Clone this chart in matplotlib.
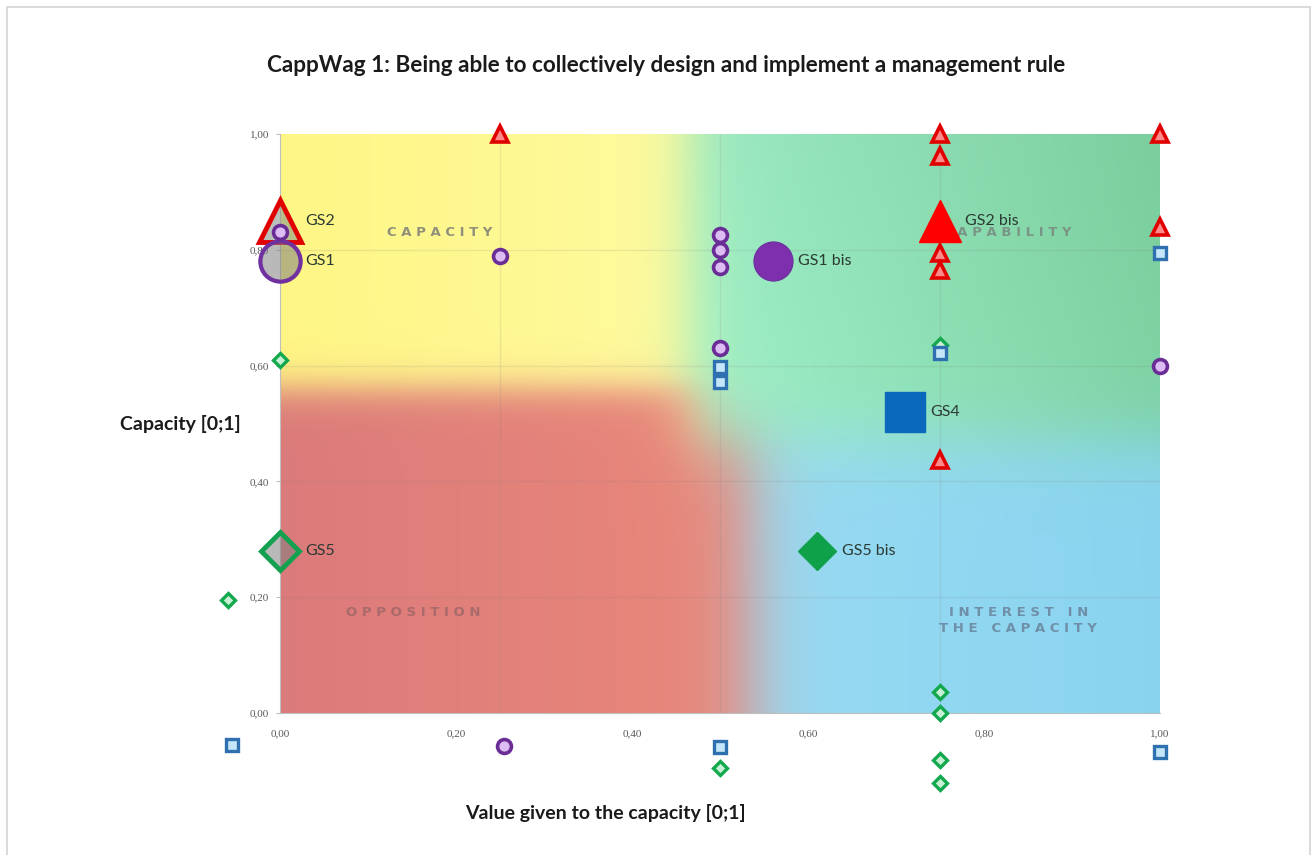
import numpy as np
import matplotlib.pyplot as plt
from matplotlib.patches import Rectangle

# small answers, one group per marker type
circle_x = [0.0, 0.25, 0.5, 0.5, 0.5, 0.5, 1.0, 0.255]
circle_y = [0.83, 0.79, 0.825, 0.80, 0.77, 0.63, 0.60, -0.057]

square_x = [0.5, 0.5, 0.75, 1.0, -0.055, 0.5, 1.0]
square_y = [0.597, 0.572, 0.622, 0.794, -0.055, -0.058, -0.068]

triangle_x = [0.25, 0.75, 0.75, 0.75, 0.75, 1.0, 1.0, 0.75]
triangle_y = [1.0, 1.0, 0.962, 0.795, 0.765, 1.0, 0.84, 0.437]

diamond_x = [0.0, -0.059, 0.75, 0.75, 0.5, 0.75, 0.75, 0.75]
diamond_y = [0.61, 0.195, 0.037, 0.0, -0.095, -0.081, -0.121, 0.635]

# group summaries
group_names = ["GS1", "GS2", "GS1 bis", "GS2 bis", "GS4", "GS5", "GS5 bis"]
group_x = [0.0, 0.0, 0.56, 0.75, 0.71, 0.0, 0.61]
group_y = [0.78, 0.85, 0.78, 0.85, 0.52, 0.28, 0.28]

x_ticks = [0.0, 0.2, 0.4, 0.6, 0.8, 1.0]
y_ticks = [0.0, 0.2, 0.4, 0.6, 0.8, 1.0]
tick_labels = ["0,00", "0,20", "0,40", "0,60", "0,80", "1,00"]


def sig(v):
    return 1.0 / (1.0 + np.exp(-v))


def background(n=400):
    xs = np.linspace(0, 1, n)
    ys = np.linspace(0, 1, n)
    X, Y = np.meshgrid(xs, ys)
    X = X[..., None]
    Y = Y[..., None]
    yel = np.array([1.0, 0.965, 0.52]) * (1 - X) + np.array([1.0, 1.0, 0.74]) * X
    s = np.clip((X - 0.5) / 0.5, 0, 1)
    grn = np.array([0.62, 0.94, 0.78]) * (1 - s) + np.array([0.50, 0.83, 0.64]) * s
    grn = grn * (1 - 0.06 * (Y - 0.5))
    red = np.array([0.86, 0.48, 0.48]) * (1 - X) + np.array([0.97, 0.58, 0.48]) * X
    blu = np.array([0.66, 0.89, 0.97]) * (1 - X) + np.array([0.54, 0.83, 0.94]) * X
    wt = sig((X - 0.465) / 0.018)
    wb = sig((X - 0.535) / 0.022)
    top = yel * (1 - wt) + grn * wt
    bot = red * (1 - wb) + blu * wb
    wl = sig((Y - 0.56) / 0.018)
    wr = sig((Y - 0.47) / 0.035)
    wy = wl * (1 - wt) + wr * wt
    img = bot * (1 - wy) + top * wy
    return np.clip(img, 0, 1)


fig = plt.figure(figsize=(13.14, 8.55), dpi=100)
fig.patches.append(Rectangle((7 / 1314, -0.01), 1303 / 1314, 1.0 - 7 / 855 + 0.01,
                             transform=fig.transFigure, fill=False,
                             edgecolor="#d4d4d4", linewidth=1.2))

ax = fig.add_axes([280 / 1314, (855 - 713) / 855, 880 / 1314, 579 / 855])
ax.imshow(background(), extent=[0, 1, 0, 1], origin="lower", aspect="auto", zorder=0)
ax.set_xlim(0, 1)
ax.set_ylim(0, 1)

for gx in [0.25, 0.5, 0.75]:
    ax.axvline(gx, color="#808080", alpha=0.15, lw=1, zorder=1)
for gy in [0.2, 0.4, 0.6, 0.8]:
    ax.axhline(gy, color="#808080", alpha=0.15, lw=1, zorder=1)

for sp in ["top", "right"]:
    ax.spines[sp].set_visible(False)
ax.spines["left"].set_color("#bfbfbf")
ax.spines["bottom"].set_color("#bfbfbf")
ax.set_xticks(x_ticks)
ax.set_yticks(y_ticks)
ax.set_xticklabels(tick_labels, family="Liberation Serif", fontsize=8, color="#595959")
ax.set_yticklabels(tick_labels, family="Liberation Serif", fontsize=8, color="#595959")
ax.tick_params(axis="x", length=0, pad=12)
ax.tick_params(axis="y", length=3, color="#bfbfbf", pad=5)

# quadrant labels
ax.text(0.182, 0.83, "C A P A C I T Y", color="#8f8f7a", fontsize=9.5,
        fontweight="bold", ha="center", va="center", zorder=2)
ax.text(0.826, 0.83, "C A P A B I L I T Y", color="#7a9585", fontsize=9.5,
        fontweight="bold", ha="center", va="center", zorder=2)
ax.text(0.151, 0.174, "O P P O S I T I O N", color="#a86a6a", fontsize=9.5,
        fontweight="bold", ha="center", va="center", zorder=2)
ax.text(0.839, 0.16, "I N T E R E S T   I N\nT H E   C A P A C I T Y", color="#6f8fa8",
        fontsize=9.5, fontweight="bold", ha="center", va="center", linespacing=1.3, zorder=2)

# small markers
kw = dict(linestyle="none", clip_on=False, zorder=4)
ax.plot(triangle_x, triangle_y, marker="^", markersize=11, markerfacecolor="#ff8a8a",
        markeredgecolor="#e00000", markeredgewidth=2.6, **kw)
ax.plot(diamond_x, diamond_y, marker="D", markersize=7, markerfacecolor="#c8f0d4",
        markeredgecolor="#12a84e", markeredgewidth=2.4, **kw)
ax.plot(square_x, square_y, marker="s", markersize=9, markerfacecolor="#c4e6f8",
        markeredgecolor="#2e70b0", markeredgewidth=2.4, **kw)

# group markers
ax.plot(group_x[1], group_y[1], marker="^", markersize=30, markerfacecolor=(0.55, 0.6, 0.55, 0.6),
        markeredgecolor="#e00000", markeredgewidth=3.5, **kw)
ax.plot(circle_x, circle_y, marker="o", markersize=10, markerfacecolor="#dcbcf2",
        markeredgecolor="#6a2d96", markeredgewidth=2.6, linestyle="none", clip_on=False, zorder=5)
ax.plot(group_x[0], group_y[0], marker="o", markersize=29, markerfacecolor=(0.5, 0.5, 0.5, 0.55),
        markeredgecolor="#7030a0", markeredgewidth=3, **kw)
ax.plot(group_x[2], group_y[2], marker="o", markersize=28, markerfacecolor="#7e2fae",
        markeredgecolor="#7030a0", markeredgewidth=1, **kw)
ax.plot(group_x[3], group_y[3], marker="^", markersize=30, markerfacecolor="#ff0000",
        markeredgecolor="#ff0000", markeredgewidth=1, **kw)
ax.plot(group_x[4], group_y[4], marker="s", markersize=29, markerfacecolor="#0a68bd",
        markeredgecolor="#0a68bd", markeredgewidth=1, **kw)
ax.plot(group_x[5], group_y[5], marker="D", markersize=19, markerfacecolor=(0.5, 0.5, 0.5, 0.55),
        markeredgecolor="#13a150", markeredgewidth=3.5, **kw)
ax.plot(group_x[6], group_y[6], marker="D", markersize=19, markerfacecolor="#0fa14a",
        markeredgecolor="#0fa14a", markeredgewidth=1, **kw)

for name, gx, gy in zip(group_names, group_x, group_y):
    ax.annotate(name, (gx, gy), xytext=(18, 0), textcoords="offset points",
                fontsize=11.5, family="Lato", color="#2b3a33", ha="left", va="center",
                zorder=6, annotation_clip=False)

fig.text(666 / 1314, 1 - 65 / 855,
         "CappWag 1: Being able to collectively design and implement a management rule",
         fontsize=16.2, family="Lato", fontweight="bold", ha="center", va="center",
         color="#1a1a1a")
fig.text(180 / 1314, 1 - 424 / 855, "Capacity [0;1]", fontsize=14, family="Lato",
         fontweight="bold", ha="center", va="center", color="#1a1a1a")
fig.text(605 / 1314, 1 - 813 / 855, "Value given to the capacity [0;1]", fontsize=14,
         family="Lato", fontweight="bold", ha="center", va="center", color="#1a1a1a")

fig.savefig("out.png", dpi=100)
